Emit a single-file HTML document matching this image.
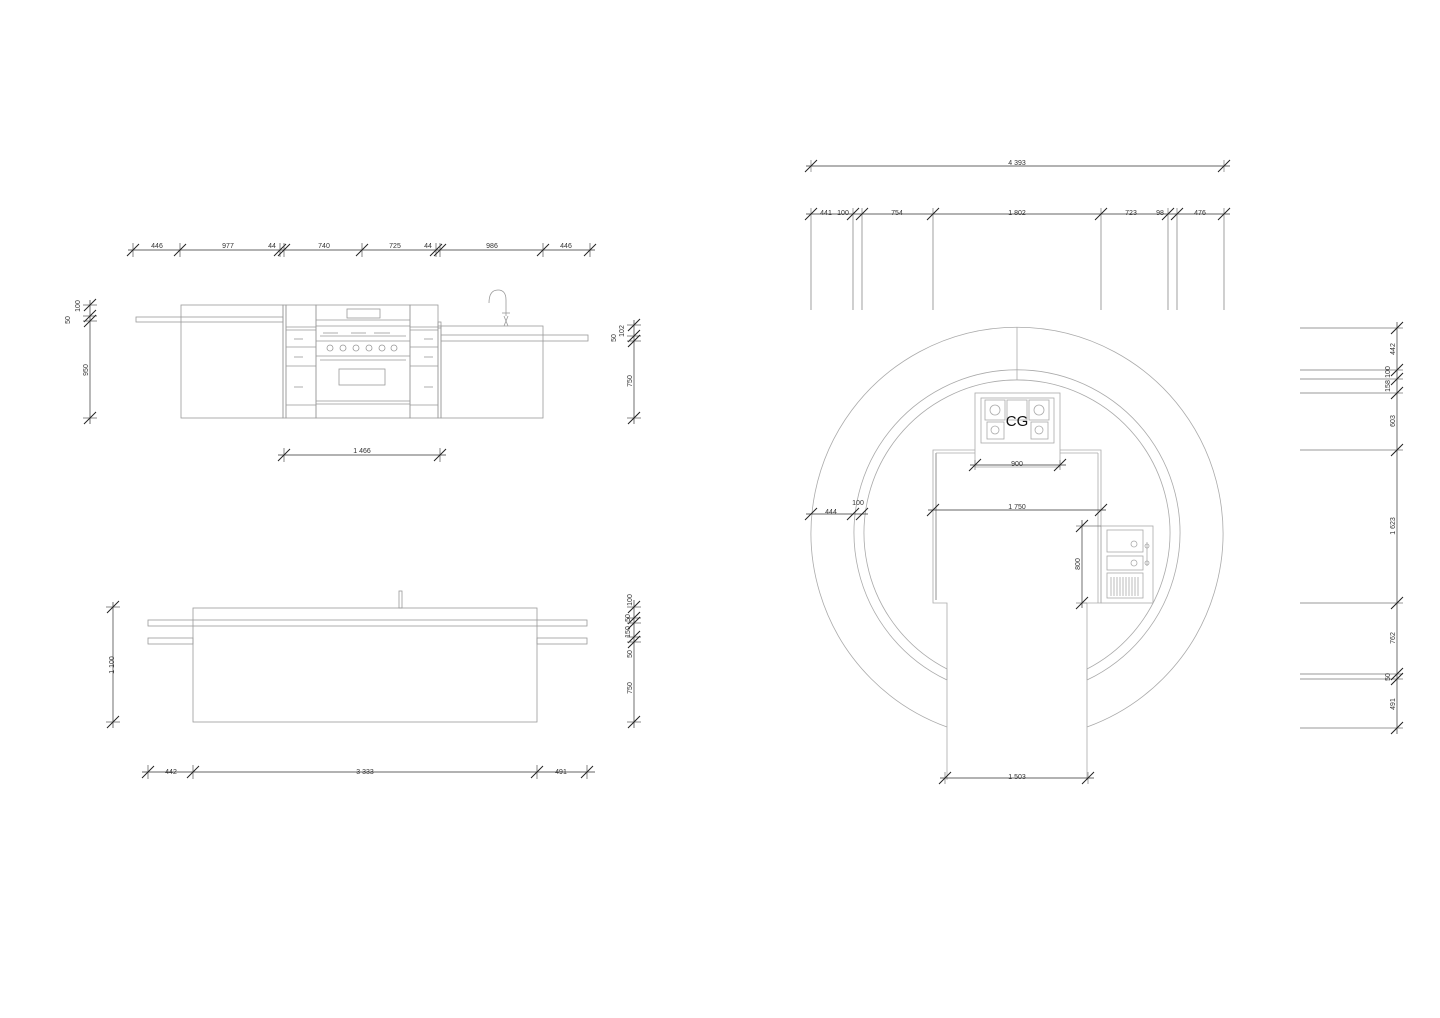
<!DOCTYPE html>
<html><head><meta charset="utf-8"><style>
html,body{margin:0;padding:0;background:#fff;}
svg{display:block;}
text{font-family:"Liberation Sans",sans-serif;font-size:7px;fill:#333;}
</style></head><body>
<svg width="1440" height="1018" viewBox="0 0 1440 1018" xmlns="http://www.w3.org/2000/svg">
<defs>
<g id="tk"><line x1="-6" y1="6" x2="6" y2="-6" stroke="#222" stroke-width="1"/></g>
<g id="tv"><line x1="0" y1="-7" x2="0" y2="7" stroke="#555" stroke-width="0.7"/><line x1="-6" y1="6" x2="6" y2="-6" stroke="#222" stroke-width="1"/></g>
<g id="th"><line x1="-7" y1="0" x2="7" y2="0" stroke="#555" stroke-width="0.7"/><line x1="-6" y1="6" x2="6" y2="-6" stroke="#222" stroke-width="1"/></g>
</defs>

<!-- ========== TOP ELEVATION ========== -->
<g stroke="#999" stroke-width="0.8" fill="none">
<rect x="181" y="305" width="102" height="113"/>
<rect x="136" y="317" width="147" height="5"/>
<rect x="283" y="305" width="3" height="113"/>
<rect x="286" y="305" width="30" height="113"/>
<line x1="286" y1="327" x2="316" y2="327"/><line x1="286" y1="330" x2="316" y2="330"/>
<line x1="286" y1="347" x2="316" y2="347"/><line x1="286" y1="366" x2="316" y2="366"/>
<line x1="286" y1="405" x2="316" y2="405"/>
<line x1="294" y1="339" x2="303" y2="339"/><line x1="294" y1="357" x2="303" y2="357"/><line x1="294" y1="387" x2="303" y2="387"/>
<rect x="316" y="305" width="94" height="113"/>
<line x1="316" y1="320" x2="410" y2="320"/>
<line x1="316" y1="326" x2="410" y2="326"/>
<rect x="347" y="309" width="33" height="9"/>
<line x1="320" y1="336" x2="406" y2="336"/>
<line x1="323" y1="333" x2="338" y2="333"/><line x1="351" y1="333" x2="366" y2="333"/><line x1="374" y1="333" x2="390" y2="333"/>
<line x1="316" y1="341" x2="410" y2="341"/>
<circle cx="330" cy="348" r="3"/><circle cx="343" cy="348" r="3"/><circle cx="356" cy="348" r="3"/><circle cx="369" cy="348" r="3"/><circle cx="382" cy="348" r="3"/><circle cx="394" cy="348" r="3"/>
<line x1="316" y1="356" x2="410" y2="356"/>
<line x1="320" y1="360" x2="406" y2="360"/>
<rect x="339" y="369" width="46" height="16"/>
<line x1="316" y1="401" x2="410" y2="401"/>
<line x1="316" y1="404" x2="410" y2="404"/>
<rect x="410" y="305" width="28" height="113"/>
<line x1="410" y1="327" x2="438" y2="327"/><line x1="410" y1="330" x2="438" y2="330"/>
<line x1="410" y1="347" x2="438" y2="347"/><line x1="410" y1="366" x2="438" y2="366"/>
<line x1="410" y1="405" x2="438" y2="405"/>
<line x1="424" y1="339" x2="433" y2="339"/><line x1="424" y1="357" x2="433" y2="357"/><line x1="424" y1="387" x2="433" y2="387"/>
<rect x="438" y="322" width="3" height="6"/>
<rect x="438" y="326" width="3" height="92"/>
<rect x="441" y="326" width="102" height="92"/>
<rect x="441" y="335" width="147" height="6"/>
<path d="M489 303 Q489 290 498 290 Q506 290 506 300 L506 316"/>
<line x1="502" y1="313" x2="510" y2="313"/>
<line x1="504" y1="316" x2="508" y2="326"/><line x1="504" y1="326" x2="508" y2="316"/>
</g>
<!-- top elevation dims -->
<g stroke="#333" stroke-width="0.7">
<line x1="128" y1="250" x2="595" y2="250"/>
<line x1="90" y1="300" x2="90" y2="424"/>
<line x1="634" y1="320" x2="634" y2="424"/>
<line x1="278" y1="455" x2="446" y2="455"/>
</g>
<g>
<use href="#tv" x="133" y="250"/><use href="#tv" x="180" y="250"/><use href="#tv" x="280" y="250"/><use href="#tv" x="284" y="250"/><use href="#tv" x="362" y="250"/><use href="#tv" x="436" y="250"/><use href="#tv" x="440" y="250"/><use href="#tv" x="543" y="250"/><use href="#tv" x="590" y="250"/>
<use href="#th" x="90" y="305"/><use href="#th" x="90" y="316"/><use href="#th" x="90" y="321"/><use href="#th" x="90" y="418"/>
<use href="#th" x="634" y="325"/><use href="#th" x="634" y="336"/><use href="#th" x="634" y="341"/><use href="#th" x="634" y="418"/>
<use href="#tv" x="284" y="455"/><use href="#tv" x="440" y="455"/>
</g>
<g>
<text x="157" y="248" text-anchor="middle">446</text>
<text x="228" y="248" text-anchor="middle">977</text>
<text x="272" y="248" text-anchor="middle">44</text>
<text x="324" y="248" text-anchor="middle">740</text>
<text x="395" y="248" text-anchor="middle">725</text>
<text x="428" y="248" text-anchor="middle">44</text>
<text x="492" y="248" text-anchor="middle">986</text>
<text x="566" y="248" text-anchor="middle">446</text>
<text x="362" y="453" text-anchor="middle">1 466</text>
<text transform="translate(80,306) rotate(-90)" text-anchor="middle">100</text>
<text transform="translate(70,320) rotate(-90)" text-anchor="middle">50</text>
<text transform="translate(88,370) rotate(-90)" text-anchor="middle">950</text>
<text transform="translate(624,331) rotate(-90)" text-anchor="middle">102</text>
<text transform="translate(616,338) rotate(-90)" text-anchor="middle">50</text>
<text transform="translate(632,381) rotate(-90)" text-anchor="middle">750</text>
</g>

<!-- ========== BOTTOM ELEVATION ========== -->
<g stroke="#999" stroke-width="0.8" fill="none">
<rect x="193" y="608" width="344" height="114"/>
<rect x="148" y="620" width="439" height="6"/>
<rect x="148" y="638" width="45" height="6"/>
<rect x="537" y="638" width="50" height="6"/>
<rect x="399" y="591" width="3" height="17"/>
</g>
<g stroke="#333" stroke-width="0.7">
<line x1="113" y1="602" x2="113" y2="728"/>
<line x1="634" y1="600" x2="634" y2="728"/>
<line x1="142" y1="772" x2="595" y2="772"/>
</g>
<g>
<use href="#th" x="113" y="607"/><use href="#th" x="113" y="722"/>
<use href="#th" x="634" y="607"/><use href="#th" x="634" y="618"/><use href="#th" x="634" y="623"/><use href="#th" x="634" y="637"/><use href="#th" x="634" y="642"/><use href="#th" x="634" y="722"/>
<use href="#tv" x="148" y="772"/><use href="#tv" x="193" y="772"/><use href="#tv" x="537" y="772"/><use href="#tv" x="587" y="772"/>
</g>
<g>
<text transform="translate(114,665) rotate(-90)" text-anchor="middle">1 100</text>
<text transform="translate(632,600) rotate(-90)" text-anchor="middle">100</text>
<text transform="translate(630,618) rotate(-90)" text-anchor="middle">50</text>
<text transform="translate(630,632) rotate(-90)" text-anchor="middle">150</text>
<text transform="translate(632,654) rotate(-90)" text-anchor="middle">50</text>
<text transform="translate(632,688) rotate(-90)" text-anchor="middle">750</text>
<text x="171" y="774" text-anchor="middle">442</text>
<text x="365" y="774" text-anchor="middle">3 333</text>
<text x="561" y="774" text-anchor="middle">491</text>
</g>

<!-- ========== PLAN ========== -->
<g stroke="#aaa" stroke-width="0.8" fill="none">
<path d="M947 727 A206 206 0 1 1 1087 727"/>
<path d="M947 680 A163 163 0 1 1 1087 680"/>
<path d="M947 669 A153 153 0 1 1 1087 669"/>
<line x1="947" y1="669" x2="947" y2="680"/>
<line x1="1087" y1="669" x2="1087" y2="680"/>
<line x1="1017" y1="327" x2="1017" y2="380"/>
<!-- counter -->
<path d="M975 450 L933 450 L933 603 L947 603 L947 780"/>
<path d="M1060 450 L1101 450 L1101 603 L1087 603 L1087 780"/>
<line x1="936" y1="453" x2="936" y2="600" stroke="#777"/>
<line x1="1098" y1="453" x2="1098" y2="603"/>
<line x1="1060" y1="453" x2="1098" y2="453"/>
<line x1="936" y1="453" x2="975" y2="453"/>
<!-- hob -->
<rect x="975" y="393" width="85" height="74"/>
<rect x="981" y="398" width="73" height="45"/>
<rect x="985" y="400" width="20" height="20"/><rect x="1007" y="400" width="20" height="20"/><rect x="1029" y="400" width="20" height="20"/>
<rect x="987" y="422" width="17" height="17"/><rect x="1031" y="422" width="17" height="17"/>
<circle cx="995" cy="410" r="5"/><circle cx="1039" cy="410" r="5"/><circle cx="995" cy="430" r="4"/><circle cx="1039" cy="430" r="4"/>
<!-- sink -->
<rect x="1101" y="526" width="52" height="77"/>
<rect x="1107" y="530" width="36" height="22"/>
<rect x="1107" y="556" width="36" height="14"/>
<rect x="1107" y="573" width="36" height="25"/>
<circle cx="1134" cy="544" r="3"/><circle cx="1134" cy="563" r="3"/>
<circle cx="1147" cy="546" r="2"/><circle cx="1147" cy="563" r="2"/>
<line x1="1147" y1="542" x2="1147" y2="566"/>
<line x1="1111" y1="577" x2="1111" y2="596"/><line x1="1114" y1="577" x2="1114" y2="596"/><line x1="1117" y1="577" x2="1117" y2="596"/><line x1="1120" y1="577" x2="1120" y2="596"/><line x1="1123" y1="577" x2="1123" y2="596"/><line x1="1126" y1="577" x2="1126" y2="596"/><line x1="1129" y1="577" x2="1129" y2="596"/><line x1="1132" y1="577" x2="1132" y2="596"/><line x1="1135" y1="577" x2="1135" y2="596"/><line x1="1138" y1="577" x2="1138" y2="596"/>
</g>
<text x="1017" y="426" text-anchor="middle" style="font-size:15px;fill:#111">CG</text>

<!-- plan dims -->
<g stroke="#333" stroke-width="0.7">
<line x1="806" y1="166" x2="1230" y2="166"/>
<line x1="806" y1="214" x2="1230" y2="214"/>
<line x1="970" y1="465" x2="1066" y2="465"/>
<line x1="928" y1="510" x2="1106" y2="510"/>
<line x1="1082" y1="520" x2="1082" y2="608"/>
<line x1="806" y1="514" x2="868" y2="514"/>
<line x1="940" y1="778" x2="1094" y2="778"/>
<line x1="1397" y1="322" x2="1397" y2="734"/>
</g>
<g stroke="#777" stroke-width="0.7">
<line x1="811" y1="208" x2="811" y2="310"/><line x1="853" y1="208" x2="853" y2="310"/><line x1="862" y1="208" x2="862" y2="310"/><line x1="933" y1="208" x2="933" y2="310"/><line x1="1101" y1="208" x2="1101" y2="310"/><line x1="1168" y1="208" x2="1168" y2="310"/><line x1="1177" y1="208" x2="1177" y2="310"/><line x1="1224" y1="208" x2="1224" y2="310"/>
<line x1="811" y1="160" x2="811" y2="172"/><line x1="1224" y1="160" x2="1224" y2="172"/>
<line x1="1300" y1="328" x2="1403" y2="328"/><line x1="1300" y1="370" x2="1403" y2="370"/><line x1="1300" y1="379" x2="1403" y2="379"/><line x1="1300" y1="393" x2="1403" y2="393"/><line x1="1300" y1="450" x2="1403" y2="450"/><line x1="1300" y1="603" x2="1403" y2="603"/><line x1="1300" y1="674" x2="1403" y2="674"/><line x1="1300" y1="679" x2="1403" y2="679"/><line x1="1300" y1="728" x2="1403" y2="728"/>
<line x1="975" y1="460" x2="975" y2="470"/><line x1="1060" y1="460" x2="1060" y2="470"/>
<line x1="1076" y1="526" x2="1101" y2="526"/><line x1="1076" y1="603" x2="1087" y2="603"/>
<line x1="945" y1="772" x2="945" y2="784"/><line x1="1088" y1="772" x2="1088" y2="784"/>
</g>
<g>
<use href="#tk" x="811" y="166"/><use href="#tk" x="1224" y="166"/>
<use href="#tk" x="811" y="214"/><use href="#tk" x="853" y="214"/><use href="#tk" x="862" y="214"/><use href="#tk" x="933" y="214"/><use href="#tk" x="1101" y="214"/><use href="#tk" x="1168" y="214"/><use href="#tk" x="1177" y="214"/><use href="#tk" x="1224" y="214"/>
<use href="#tk" x="975" y="465"/><use href="#tk" x="1060" y="465"/>
<use href="#tk" x="933" y="510"/><use href="#tk" x="1101" y="510"/>
<use href="#tk" x="811" y="514"/><use href="#tk" x="853" y="514"/><use href="#tk" x="862" y="514"/>
<use href="#tk" x="1082" y="526"/><use href="#tk" x="1082" y="603"/>
<use href="#tk" x="945" y="778"/><use href="#tk" x="1088" y="778"/>
<use href="#tk" x="1397" y="328"/><use href="#tk" x="1397" y="370"/><use href="#tk" x="1397" y="379"/><use href="#tk" x="1397" y="393"/><use href="#tk" x="1397" y="450"/><use href="#tk" x="1397" y="603"/><use href="#tk" x="1397" y="674"/><use href="#tk" x="1397" y="679"/><use href="#tk" x="1397" y="728"/>
</g>
<g>
<text x="1017" y="165" text-anchor="middle">4 393</text>
<text x="826" y="215" text-anchor="middle">441</text>
<text x="843" y="215" text-anchor="middle">100</text>
<text x="897" y="215" text-anchor="middle">754</text>
<text x="1017" y="215" text-anchor="middle">1 802</text>
<text x="1131" y="215" text-anchor="middle">723</text>
<text x="1160" y="215" text-anchor="middle">98</text>
<text x="1200" y="215" text-anchor="middle">476</text>
<text x="1017" y="466" text-anchor="middle">900</text>
<text x="1017" y="509" text-anchor="middle">1 750</text>
<text x="831" y="514" text-anchor="middle">444</text>
<text x="858" y="505" text-anchor="middle">100</text>
<text x="1017" y="779" text-anchor="middle">1 503</text>
<text transform="translate(1080,564) rotate(-90)" text-anchor="middle">800</text>
<text transform="translate(1395,349) rotate(-90)" text-anchor="middle">442</text>
<text transform="translate(1390,372) rotate(-90)" text-anchor="middle">100</text>
<text transform="translate(1390,386) rotate(-90)" text-anchor="middle">158</text>
<text transform="translate(1395,421) rotate(-90)" text-anchor="middle">603</text>
<text transform="translate(1395,526) rotate(-90)" text-anchor="middle">1 623</text>
<text transform="translate(1395,638) rotate(-90)" text-anchor="middle">762</text>
<text transform="translate(1390,677) rotate(-90)" text-anchor="middle">50</text>
<text transform="translate(1395,704) rotate(-90)" text-anchor="middle">491</text>
</g>
</svg>
</body></html>
